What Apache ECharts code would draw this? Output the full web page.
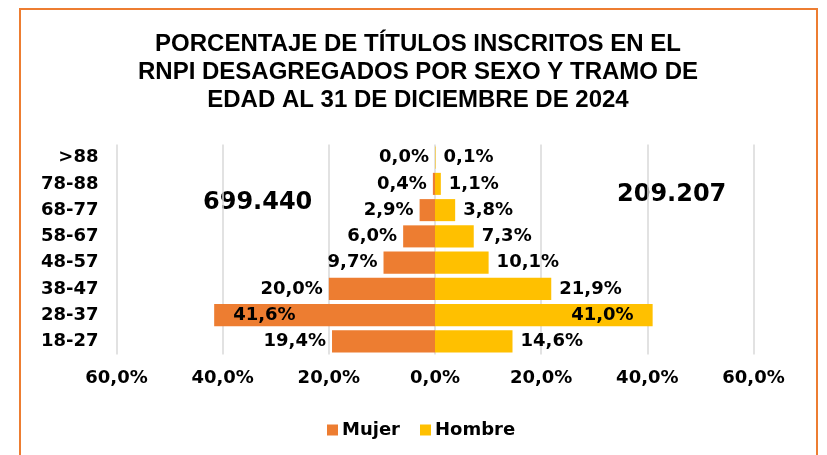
<!DOCTYPE html>
<html>
<head>
<meta charset="utf-8">
<script src="https://cdn.jsdelivr.net/npm/echarts@6/dist/echarts.min.js"></script>
<style>
html,body{margin:0;padding:0;background:#fff;}
#chart{width:827px;height:455px;}
</style>
</head>
<body>
<div id="chart"></div>
<script>
// tramos de edad, de abajo hacia arriba
var tramos = ['18-27', '28-37', '38-47', '48-57', '58-67', '68-77', '78-88', '>88'];
var mujer = [19.4, 41.6, 20.0, 9.7, 6.0, 2.9, 0.4, 0.0];
var hombre = [14.6, 41.0, 21.9, 10.1, 7.3, 3.8, 1.1, 0.1];
var ejeTicks = [-60, -40, -20, 0, 20, 40, 60];
var totalMujer = '699.440';
var totalHombre = '209.207';

var labelFont = 'DejaVu Sans';

function pct(v){
	return Math.abs(v).toFixed(1).replace('.', ',') + '%';
}

var chart = echarts.init(document.getElementById('chart'));

var mujerData = mujer.map(function(v){
	var item = {value: -v};
	if (v > 30) item.label = {position: 'insideLeft', distance: 19};
	return item;
});
var hombreData = hombre.map(function(v){
	var item = {value: v};
	if (v > 30) item.label = {position: 'insideRight', distance: 19};
	return item;
});

var option = {
	animation: false,
	title: {
		text: 'PORCENTAJE DE TÍTULOS INSCRITOS EN EL\nRNPI DESAGREGADOS POR SEXO Y TRAMO DE\nEDAD AL 31 DE DICIEMBRE DE 2024',
		left: 418,
		top: 30,
		padding: 0,
		textAlign: 'center',
		textStyle: {
			fontFamily: 'Liberation Sans',
			fontWeight: 'bold',
			fontSize: 24,
			lineHeight: 28,
			color: '#000'
		}
	},
	legend: {
		data: ['Mujer', 'Hombre'],
		left: 322,
		top: 416,
		itemWidth: 11,
		itemHeight: 11,
		itemGap: 20,
		icon: 'rect',
		textStyle: {fontFamily: labelFont, fontWeight: 'bold', fontSize: 18, color: '#000', padding: [0, 0, 0, -1]}
	},
	grid: {left: 116.5, right: 73.5, top: 144.5, bottom: 100.5, containLabel: false},
	xAxis: {
		type: 'value',
		min: ejeTicks[0],
		max: ejeTicks[ejeTicks.length - 1],
		interval: 20,
		axisLine: {show: false},
		axisTick: {show: false},
		splitLine: {lineStyle: {color: '#D9D9D9', width: 1.5}},
		axisLabel: {
			margin: 15,
			fontFamily: labelFont,
			fontWeight: 'bold',
			fontSize: 18,
			color: '#000',
			formatter: function(v){ return pct(v); }
		}
	},
	yAxis: {
		type: 'category',
		data: tramos,
		axisLine: {show: false},
		axisTick: {show: false},
		axisLabel: {
			margin: 18,
			fontFamily: labelFont,
			fontWeight: 'bold',
			fontSize: 18,
			color: '#000'
		}
	},
	series: [{
		name: 'Mujer',
		type: 'bar',
		data: mujerData,
		barGap: '-100%',
		barCategoryGap: '16%',
		itemStyle: {color: '#ED7D31'},
		label: {
			show: true,
			position: 'left',
			distance: 6,
			fontFamily: labelFont,
			fontWeight: 'bold',
			fontSize: 18,
			color: '#000',
			formatter: function(p){ return pct(p.value); }
		}
	}, {
		name: 'Hombre',
		type: 'bar',
		data: hombreData,
		barGap: '-100%',
		barCategoryGap: '16%',
		itemStyle: {color: '#FFC000'},
		label: {
			show: true,
			position: 'right',
			distance: 8,
			fontFamily: labelFont,
			fontWeight: 'bold',
			fontSize: 18,
			color: '#000',
			formatter: function(p){ return pct(p.value); }
		}
	}],
	graphic: [{
		type: 'rect',
		shape: {x: 20, y: 9, width: 797, height: 470},
		style: {fill: 'none', stroke: '#ED7D31', lineWidth: 2},
		silent: true
	}, {
		type: 'text',
		left: 203,
		top: 191,
		style: {text: totalMujer, font: 'bold 24px "DejaVu Sans"', fill: '#000'}
	}, {
		type: 'text',
		left: 617,
		top: 183,
		style: {text: totalHombre, font: 'bold 24px "DejaVu Sans"', fill: '#000'}
	}]
};

chart.setOption(option);
</script>
</body>
</html>
